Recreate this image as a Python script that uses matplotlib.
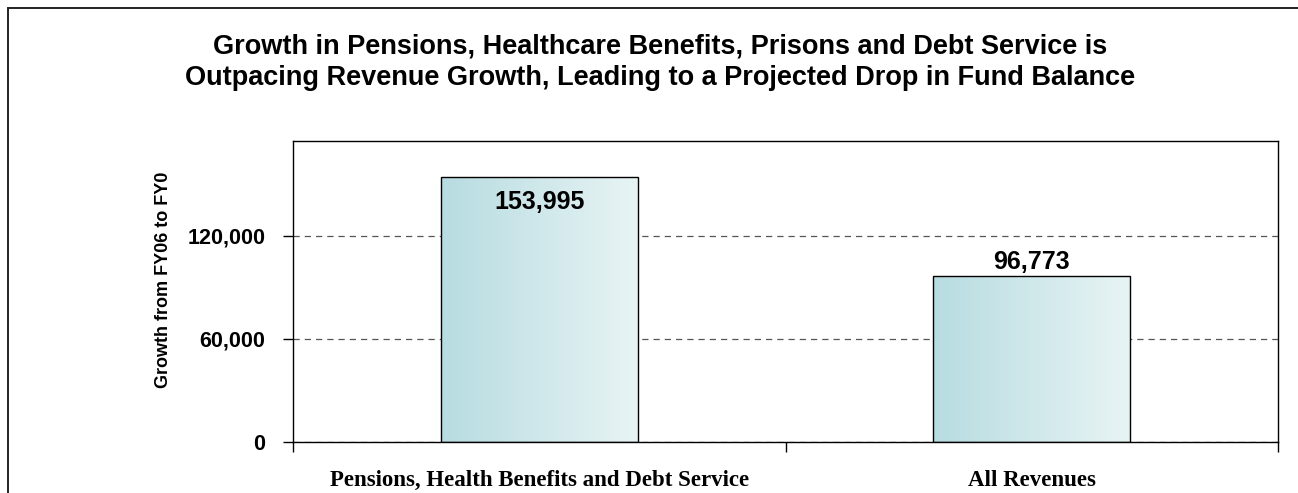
import numpy as np
import matplotlib
matplotlib.use("Agg")
import matplotlib.pyplot as plt
from matplotlib.patches import Rectangle
from matplotlib.colors import LinearSegmentedColormap
from matplotlib.ticker import FuncFormatter

categories = ["Pensions, Health Benefits and Debt Service", "All Revenues"]
growth = [153995, 96773]
y_ticks = [0, 60000, 120000]
title = ("Growth in Pensions, Healthcare Benefits, Prisons and Debt Service is\n"
         "Outpacing Revenue Growth, Leading to a Projected Drop in Fund Balance")
y_label = "Growth from FY06 to FY0"

W, H = 1298, 493
fig = plt.figure(figsize=(W / 100, H / 100), dpi=100)

sans = "Liberation Sans"
serif = "Liberation Serif"

# outer chart frame (runs off the right and bottom of the picture)
fig.patches.append(Rectangle((8 / W, -0.1), 1.2, 1.1 - 8 / H, transform=fig.transFigure,
                             fill=False, edgecolor="#222222", linewidth=1.4))

fig.text(660 / W, 1 - 62 / H, title, ha="center", va="center", fontsize=19.5,
         fontweight="bold", family=sans, linespacing=1.27)

left, right, top, bottom = 293, 1278, 141, 442
ax = fig.add_axes([left / W, 1 - bottom / H, (right - left) / W, (bottom - top) / H])

x = np.arange(len(categories))
bars = ax.bar(x, growth, width=0.4, facecolor="none", edgecolor="black", linewidth=1.0, zorder=3)

cmap = LinearSegmentedColormap.from_list("bar", ["#b7dce1", "#e8f4f4"])
grad = np.linspace(0, 1, 256).reshape(1, -1)
for b in bars:
    im = ax.imshow(grad, cmap=cmap, aspect="auto", zorder=2,
                   extent=[b.get_x(), b.get_x() + b.get_width(), 0, b.get_height()])
    im.set_clip_path(b)

ax.set_xlim(-0.5, 1.5)
ax.set_ylim(0, 175000)

ax.set_yticks(y_ticks)
ax.yaxis.set_major_formatter(FuncFormatter(lambda v, p: f"{int(v):,}"))
ax.yaxis.grid(True, linestyle=(0, (5, 4)), color="#555555", linewidth=0.9, zorder=1)
ax.set_axisbelow(True)

ax.set_xticks([-0.5, 0.5, 1.5])
ax.set_xticklabels([])
ax.set_xticks(x, minor=True)
ax.set_xticklabels(categories, minor=True, family=serif, fontweight="bold", fontsize=16.5)
ax.tick_params(axis="x", which="minor", length=0, pad=20)
ax.tick_params(axis="x", which="major", length=7, width=1, direction="out")
ax.tick_params(axis="y", length=7, width=1, direction="out", pad=13)
for lab in ax.get_yticklabels():
    lab.set_family(sans)
    lab.set_fontweight("bold")
    lab.set_fontsize(15.5)

for s in ax.spines.values():
    s.set_linewidth(1.0)
    s.set_color("black")

ax.set_ylabel(y_label, family=sans, fontweight="bold", fontsize=13)
ax.yaxis.set_label_coords((172 - left) / (right - left), (bottom - 280) / (bottom - top))

ymax = ax.get_ylim()[1]
for b, v in zip(bars, growth):
    cx = b.get_x() + b.get_width() / 2
    if v > ymax * 0.85:
        ax.annotate(f"{v:,}", (cx, v), xytext=(0, -9), textcoords="offset points",
                    ha="center", va="top", fontsize=18, fontweight="bold", family=sans)
    else:
        ax.annotate(f"{v:,}", (cx, v), xytext=(0, 1), textcoords="offset points",
                    ha="center", va="bottom", fontsize=18, fontweight="bold", family=sans)

fig.savefig("out.png", dpi=100)
